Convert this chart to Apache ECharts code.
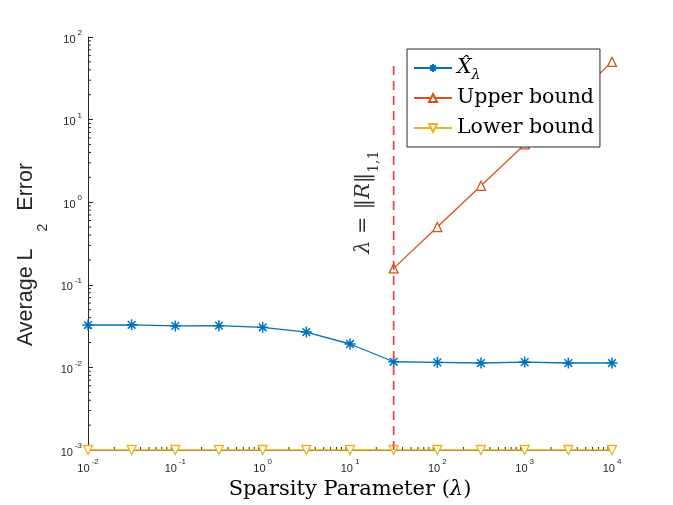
<!DOCTYPE html>
<html><head><meta charset="utf-8">
<script src="https://cdn.jsdelivr.net/npm/echarts@6/dist/echarts.min.js"></script>
<style>html,body{margin:0;padding:0;background:#fff}#c{width:673px;height:505px}</style>
</head><body><div id="c"></div>
<script>
// ---- data ----
const lambdaValues = [0.01, 0.0316, 0.1, 0.316, 1, 3.16, 10, 31.6, 100, 316, 1000, 3162, 10000];
const xhatError   = [0.0326, 0.0328, 0.0318, 0.0320, 0.0306, 0.0268, 0.0192, 0.0117, 0.0115, 0.0113, 0.0116, 0.0113, 0.0113];
const upperLambda = [31.6, 100, 316, 1000, 3162, 10000];
const upperBound  = [0.158, 0.5, 1.58, 5.0, 15.8, 50];
const lowerBound  = [0.001, 0.001, 0.001, 0.001, 0.001, 0.001, 0.001, 0.001, 0.001, 0.001, 0.001, 0.001, 0.001];
const thresholdLambda = 31.6;
const thresholdRange  = [0.001, 50];
const annotationPos   = [15.7, 1.0];
const xTickExponents  = [-2, -1, 0, 1, 2, 3, 4];
const yTickExponents  = [-3, -2, -1, 0, 1, 2];
const minorMantissas  = [2, 3, 4, 5, 6, 7, 8, 9];

// ---- build ----
const AX = '#262626';
const pairs = (xs, ys) => xs.map((x, i) => [x, ys[i]]);
const xMinor = [], yMinor = [];
for (let k = xTickExponents[0]; k < xTickExponents[xTickExponents.length - 1]; k++)
  minorMantissas.forEach(m => xMinor.push([m * Math.pow(10, k), Math.pow(10, yTickExponents[0])]));
for (let k = yTickExponents[0]; k < yTickExponents[yTickExponents.length - 1]; k++)
  minorMantissas.forEach(m => yMinor.push([Math.pow(10, xTickExponents[0]), m * Math.pow(10, k)]));

const minorSeries = (data, vertical) => ({
  type: 'custom', silent: true, z: 1, clip: false, data: data,
  renderItem: (params, api) => {
    const p = api.coord([api.value(0), api.value(1)]);
    return { type: 'line',
      shape: vertical ? { x1: p[0], y1: p[1], x2: p[0], y2: p[1] - 3 } : { x1: p[0], y1: p[1], x2: p[0] + 3, y2: p[1] },
      style: { stroke: AX, lineWidth: 1 } };
  }
});

const tickFmt = v => '{b|10}{s|' + Math.round(Math.log10(v)) + '}';
const tickRich = {
  b: { fontFamily: 'Liberation Sans', fontSize: 11, color: AX, verticalAlign: 'bottom', lineHeight: 16 },
  s: { fontFamily: 'Liberation Sans', fontSize: 8, color: AX, verticalAlign: 'top', lineHeight: 9, padding: [0, 0, 0, 2] }
};

const chart = echarts.init(document.getElementById('c'), null, { renderer: 'canvas' });
chart.setOption({
  animation: false,
  backgroundColor: '#fff',
  grid: { left: 88, right: 61, top: 37, bottom: 55 },
  xAxis: {
    type: 'log', logBase: 10, min: 0.01, max: 10000, splitNumber: 6,
    axisLine: { lineStyle: { color: AX, width: 1 } },
    axisTick: { inside: true, length: 5, lineStyle: { color: AX } },
    splitLine: { show: false },
    axisLabel: { formatter: tickFmt, rich: tickRich, margin: 8 },
    name: '{t|Sparsity Parameter (}{i|λ}{t|)}',
    nameLocation: 'middle', nameGap: 26,
    nameTextStyle: { rich: {
      t: { fontFamily: 'DejaVu Serif', fontSize: 21, color: '#000' },
      i: { fontFamily: 'DejaVu Serif', fontStyle: 'italic', fontSize: 21, color: '#000' }
    } }
  },
  yAxis: {
    type: 'log', logBase: 10, min: 0.001, max: 100, splitNumber: 5,
    axisLine: { lineStyle: { color: AX, width: 1 } },
    axisTick: { inside: true, length: 5, lineStyle: { color: AX } },
    splitLine: { show: false },
    axisLabel: { formatter: tickFmt, rich: tickRich, margin: 6 },
    name: '{a|Average L}{sp|\u200b}{s|2}{e|Error}',
    nameLocation: 'middle', nameGap: 36, nameRotate: 90,
    nameTextStyle: { rich: {
      a: { fontFamily: 'Liberation Sans', fontSize: 21.5, color: AX, lineHeight: 22, verticalAlign: 'top' },
      e: { fontFamily: 'Liberation Sans', fontSize: 21.5, color: AX, lineHeight: 22, verticalAlign: 'top', padding: [0, 22, 0, 0] },
      sp: { fontSize: 2, lineHeight: 35 },
      s: { fontFamily: 'Liberation Sans', fontSize: 14, color: AX, lineHeight: 14, verticalAlign: 'bottom', padding: [0, 13, 0, 17] }
    } }
  },
  legend: {
    data: ['xhat', 'Upper bound', 'Lower bound'],
    orient: 'vertical', left: 407, top: 49,
    backgroundColor: '#fff', borderColor: AX, borderWidth: 1, borderRadius: 0,
    padding: [5, 6, 5, 6], itemGap: 2, itemWidth: 38, itemHeight: 10,
    textStyle: { fontFamily: 'DejaVu Serif', fontSize: 20.5, color: '#000', lineHeight: 28, rich: {
      xi: { fontFamily: 'DejaVu Serif', fontStyle: 'italic', fontSize: 20.5, color: '#000', verticalAlign: 'middle', lineHeight: 28 },
      l: { fontFamily: 'DejaVu Serif', fontStyle: 'italic', fontSize: 14, color: '#000', verticalAlign: 'bottom', lineHeight: 8 }
    } },
    formatter: n => n === 'xhat' ? '{xi|X\u0302}{l|λ}' : n
  },
  series: [
    minorSeries(xMinor, true),
    minorSeries(yMinor, false),
    {
      name: 'xhat', type: 'line', data: pairs(lambdaValues, xhatError), clip: false, z: 3,
      symbol: 'path://M0,5L10,5M5,0L5,10M1.5,1.5L8.5,8.5M8.5,1.5L1.5,8.5', symbolSize: 11,
      lineStyle: { color: '#0072BD', width: 1.3 },
      itemStyle: { color: 'none', borderColor: '#0072BD', borderWidth: 1.5 }
    },
    {
      name: 'Upper bound', type: 'line', data: pairs(upperLambda, upperBound), clip: false, z: 3,
      symbol: 'triangle', symbolSize: 9,
      lineStyle: { color: '#D95319', width: 1.3 },
      itemStyle: { color: '#fff', borderColor: '#D95319', borderWidth: 1.3 }
    },
    {
      name: 'Lower bound', type: 'line', data: pairs(lambdaValues, lowerBound), clip: false, z: 3,
      symbol: 'triangle', symbolRotate: 180, symbolSize: 9,
      lineStyle: { color: '#EDB120', width: 1.5 },
      itemStyle: { color: '#fff', borderColor: '#EDB120', borderWidth: 1.3 }
    },
    {
      name: 'threshold', type: 'line', data: thresholdRange.map(v => [thresholdLambda, v]), clip: false, z: 4,
      symbol: 'none', silent: true,
      lineStyle: { color: '#F5333B', width: 1.6, type: [9, 6] }
    },
    {
      name: 'annotation', type: 'scatter', data: [annotationPos], symbolSize: 0, silent: true, z: 5,
      label: { show: true, position: 'inside', rotate: 90,
        formatter: '{i|λ}{t| = ‖}{i|R}{t|‖}{sp|\u200b}{s|1,1}',
        rich: {
          i: { fontFamily: 'DejaVu Serif', fontStyle: 'italic', fontSize: 21, color: '#000', verticalAlign: 'top', lineHeight: 24 },
          t: { fontFamily: 'DejaVu Serif', fontSize: 21, color: '#000', verticalAlign: 'top', lineHeight: 24 },
          sp: { fontSize: 2, lineHeight: 29 },
          s: { fontFamily: 'DejaVu Serif', fontSize: 14, color: '#000', verticalAlign: 'bottom', lineHeight: 14 }
        } }
    }
  ]
});
</script></body></html>
